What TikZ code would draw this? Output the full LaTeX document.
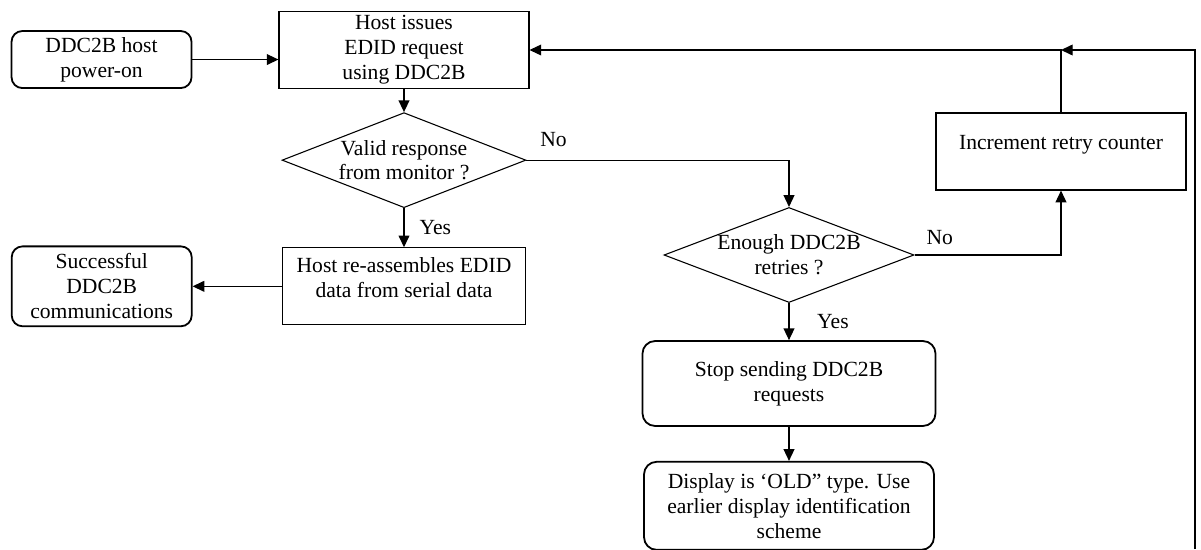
\documentclass[tikz,border=0pt]{standalone}
\usepackage{fontspec}
\setmainfont{Liberation Serif}
\usetikzlibrary{arrows.meta,positioning,shapes.geometric}

\begin{document}
\begin{tikzpicture}[x=0.5556pt,y=-0.5556pt,font=\fontsize{12}{13.8}\selectfont,
  procbox/.style={draw,line width=0.6pt,minimum width=138.9pt,minimum height=42.8pt,align=center,inner sep=2pt},
  endbox/.style={draw,line width=1pt,rounded corners=6pt,align=center,inner sep=2pt},
  decision/.style={draw,line width=0.6pt,diamond,inner sep=-4pt,minimum height=52.8pt,align=center},
  flow/.style={-{Triangle[length=6.5pt,width=6pt]},line width=0.7pt}]
  \useasboundingbox (0,0) rectangle (1201,550);
  \node[procbox] (issue) at (404,50) {Host issues\\EDID request\\using DDC2B};
  \node[endbox,minimum width=100pt,minimum height=31.7pt,left=47.8pt of issue,yshift=-5.3pt] (power) {DDC2B host\\power-on};
  \node[decision,aspect=2.56,minimum width=135.5pt,below=12.8pt of issue] (valid) {Valid response\\from monitor ?};
  \node[procbox,minimum width=135.5pt,below=21.7pt of valid] (assemble) {Host re-assembles EDID\\data from serial data\\[-4pt]\mbox{}};
  \node[endbox,minimum width=100pt,minimum height=44.4pt,left=49.4pt of assemble] (success) {Successful\\DDC2B\\communications};
  \node[decision,aspect=2.63,minimum width=138.9pt] (enough) at (789,255) {Enough DDC2B\\retries ?};
  \node[procbox] (incr) at (1061,151.5) {Increment retry counter\\[-4pt]\mbox{}};
  \node[endbox,rounded corners=7pt,minimum width=162.8pt,minimum height=47.2pt,below=20.6pt of enough] (stop) {Stop sending DDC2B\\requests};
  \node[endbox,rounded corners=7pt,minimum width=161.1pt,minimum height=48.9pt,below=18.9pt of stop] (display) {Display is ‘OLD” type. Use\\earlier display identification\\scheme};
  \coordinate (loopstart) at (1195,549);
  \coordinate (loopjoin) at (incr.north |- issue.east);
  % main flow
  \draw[flow] (power.east) -- (power.east -| issue.west);
  \draw[flow] (issue) -- (valid);
  \draw[flow] (valid) -- node[right,xshift=5pt]{Yes} (assemble);
  \draw[flow] (assemble) -- (success);
  \draw[flow] (valid.east) -| node[pos=0,above right,xshift=4pt,yshift=4pt]{No} (enough.north);
  \draw[flow] (enough) -- node[right,xshift=12pt]{Yes} (stop);
  \draw[flow] (stop) -- (display);
  % retry loop
  \draw[flow] (enough.east) -| node[pos=0,above right,xshift=3pt,yshift=2pt]{No} (incr.south);
  \draw[flow] (incr.north) |- (issue.east);
  \draw[flow] (loopstart) |- (loopjoin);
\end{tikzpicture}
\end{document}
